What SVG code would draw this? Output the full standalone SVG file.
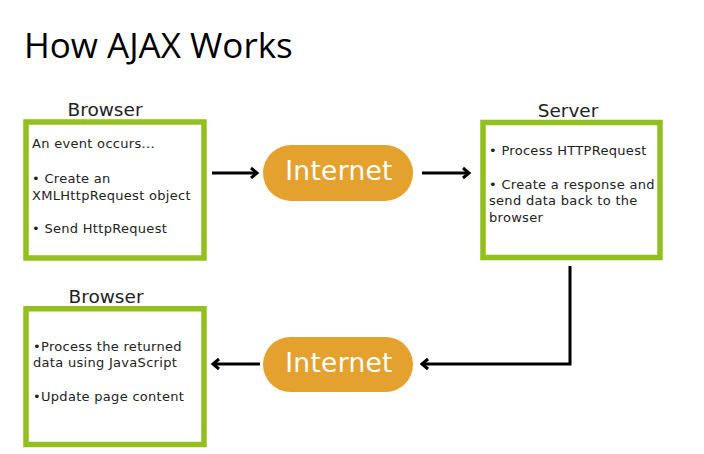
<svg xmlns="http://www.w3.org/2000/svg" width="704" height="454" viewBox="0 0 704 454">
<style>
.box{fill:#fff;stroke:#93c01f;stroke-width:5.5}
.lbl{font-family:"DejaVu Sans",Verdana,sans-serif;font-size:18.5px;fill:#222;text-anchor:middle}
.txt{font-family:"DejaVu Sans",Verdana,sans-serif;font-size:13px;letter-spacing:0.3px;fill:#222}
.pill{fill:#e5a12e}
.ptx{font-family:"DejaVu Sans",Verdana,sans-serif;font-size:26.5px;fill:#fff;text-anchor:middle;letter-spacing:0.3px}
.con{fill:none;stroke:#000;stroke-width:3}
.head{fill:none;stroke:#000;stroke-width:3;stroke-linejoin:miter}
</style>
<rect width="704" height="454" fill="#fff"/>
<text x="24" y="58" font-family="'Open Sans',sans-serif" font-size="35" fill="#000">How AJAX Works</text>

<g id="browser1">
<text class="lbl" x="105" y="116">Browser</text>
<rect class="box" x="26" y="122" width="178" height="136"/>
<text class="txt" x="32" y="148">An event occurs...</text>
<text class="txt" x="32" y="183">• Create an</text>
<text class="txt" x="32" y="200">XMLHttpRequest object</text>
<text class="txt" x="32" y="233">• Send HttpRequest</text>
</g>

<g id="internet1">
<rect class="pill" x="263" y="145" width="150" height="56" rx="28"/>
<text class="ptx" x="339" y="180">Internet</text>
</g>

<g id="server">
<text class="lbl" x="568" y="117">Server</text>
<rect class="box" x="483" y="122.5" width="177" height="135"/>
<text class="txt" x="489" y="155">• Process HTTPRequest</text>
<text class="txt" x="489" y="189">• Create a response and</text>
<text class="txt" x="489" y="205">send data back to the</text>
<text class="txt" x="489" y="222">browser</text>
</g>

<g id="internet2">
<rect class="pill" x="263" y="337" width="150" height="55" rx="27.5"/>
<text class="ptx" x="339" y="372">Internet</text>
</g>

<g id="browser2">
<text class="lbl" x="106" y="303">Browser</text>
<rect class="box" x="26" y="308.75" width="178" height="135.75"/>
<text class="txt" x="33" y="351">•Process the returned</text>
<text class="txt" x="33" y="367">data using JavaScript</text>
<text class="txt" x="33" y="401">•Update page content</text>
</g>

<g id="connectors">
<line class="con" x1="212" y1="173" x2="256" y2="173"/>
<polyline class="head" points="251,168 257,173 251,178"/>
<line class="con" x1="422" y1="173" x2="468" y2="173"/>
<polyline class="head" points="463,168 469,173 463,178"/>
<polyline class="con" points="570,266 570,364 424,364"/>
<polyline class="head" points="428,359 422,364 428,369"/>
<line class="con" x1="260" y1="364" x2="215" y2="364"/>
<polyline class="head" points="219,359 213,364 219,369"/>
</g>
</svg>
